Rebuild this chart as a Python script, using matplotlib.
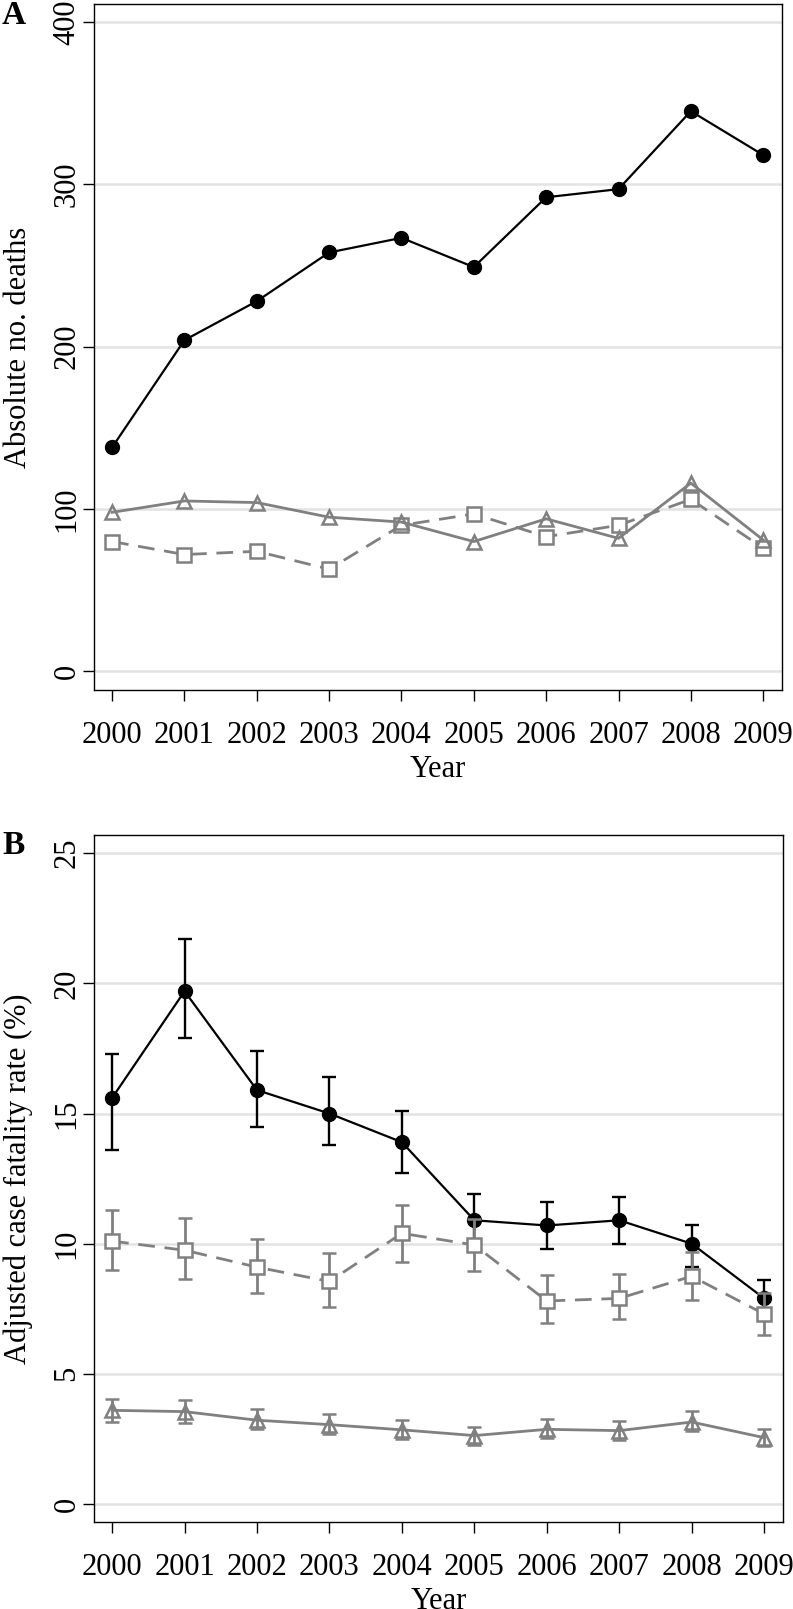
import numpy as np
import matplotlib
matplotlib.use('Agg')
import matplotlib.pyplot as plt

plt.rcParams['font.family'] = ['Liberation Serif', 'DejaVu Serif']

# Data
years = [2000, 2001, 2002, 2003, 2004, 2005, 2006, 2007, 2008, 2009]

# Panel A - absolute number of deaths
deaths_circle = [138, 204, 228, 258, 267, 249, 292, 297, 345, 318]
deaths_triangle = [98, 105, 104, 95, 92, 80, 94, 82, 116, 81]
deaths_square = [80, 72, 74, 63, 90, 97, 83, 90, 106, 76]

# Panel B - adjusted case fatality rate (%) with lower / upper bounds
cfr_circle = [15.6, 19.7, 15.9, 15.0, 13.9, 10.9, 10.7, 10.9, 10.0, 7.9]
cfr_circle_lo = [13.6, 17.9, 14.5, 13.8, 12.7, 10.0, 9.8, 10.0, 9.1, 7.3]
cfr_circle_hi = [17.3, 21.7, 17.4, 16.4, 15.1, 11.9, 11.6, 11.8, 10.7, 8.6]

cfr_square = [10.1, 9.75, 9.1, 8.55, 10.4, 9.95, 7.8, 7.9, 8.75, 7.3]
cfr_square_lo = [9.0, 8.65, 8.1, 7.55, 9.3, 8.95, 6.95, 7.1, 7.85, 6.5]
cfr_square_hi = [11.3, 11.0, 10.2, 9.65, 11.5, 10.95, 8.8, 8.85, 9.7, 8.1]

cfr_triangle = [3.6, 3.55, 3.22, 3.05, 2.85, 2.63, 2.87, 2.82, 3.15, 2.55]
cfr_triangle_lo = [3.15, 3.13, 2.87, 2.7, 2.5, 2.28, 2.54, 2.46, 2.8, 2.24]
cfr_triangle_hi = [4.05, 4.0, 3.64, 3.45, 3.22, 2.97, 3.26, 3.2, 3.57, 2.87]

gray = '#808080'
dash = (0, (6, 3.5))

fig = plt.figure(figsize=(7.93, 16.09), dpi=100)
axA = fig.add_axes([94/793, 1-690/1609, 688/793, 686/1609])
axB = fig.add_axes([94/793, 1-1522/1609, 689/793, 687/1609])


def style_axes(ax, yticks, ylim, ylabel):
    ax.set_xlim(1999.75, 2009.26)
    ax.set_ylim(*ylim)
    ax.set_xticks(years)
    ax.set_xticklabels([str(y) for y in years])
    ax.set_yticks(yticks)
    ax.set_yticklabels([str(t) for t in yticks], rotation=90, va='center')
    for t in yticks:
        ax.axhline(t, color='#e3e3e3', lw=1.8, zorder=0)
    ax.tick_params(axis='both', direction='out', length=8, width=1.0,
                   labelsize=22, color='black')
    ax.tick_params(axis='x', pad=14)
    ax.tick_params(axis='y', pad=1)
    for s in ax.spines.values():
        s.set_linewidth(1.0)
    ax.set_xlabel('Year', fontsize=22, labelpad=4)
    ax.set_ylabel(ylabel, fontsize=22, labelpad=14)


# Panel A
axA.plot(years, deaths_circle, color='black', lw=1.6, marker='o',
         markersize=10, zorder=3)
axA.plot(years, deaths_square, color=gray, lw=2.0, ls=dash, marker='s',
         markersize=9.5, markerfacecolor='white', markeredgecolor=gray,
         markeredgewidth=1.8, zorder=4)
axA.plot(years, deaths_triangle, color=gray, lw=2.0, marker='^',
         markersize=10.5, markerfacecolor='none', markeredgecolor=gray,
         markeredgewidth=1.8, zorder=5)
style_axes(axA, [0, 100, 200, 300, 400], (-11.4, 411), 'Absolute no. deaths')

# Panel B
c = np.array(cfr_circle)
s = np.array(cfr_square)
t = np.array(cfr_triangle)
axB.errorbar(years, c, yerr=[c - np.array(cfr_circle_lo), np.array(cfr_circle_hi) - c],
             color='black', lw=1.6, marker='o', markersize=10, elinewidth=1.7,
             capsize=4.7, capthick=1.7, zorder=3)
axB.errorbar(years, s, yerr=[s - np.array(cfr_square_lo), np.array(cfr_square_hi) - s],
             color=gray, lw=2.0, ls=dash, marker='s', markersize=9.5,
             markerfacecolor='white', markeredgecolor=gray, markeredgewidth=1.8,
             elinewidth=2.0, capsize=4.7, capthick=2.0, zorder=4)
axB.errorbar(years, t, yerr=[t - np.array(cfr_triangle_lo), np.array(cfr_triangle_hi) - t],
             color=gray, lw=2.0, marker='^', markersize=10.5,
             markerfacecolor='none', markeredgecolor=gray, markeredgewidth=1.8,
             elinewidth=2.0, capsize=4.7, capthick=2.0, zorder=5)
style_axes(axB, [0, 5, 10, 15, 20, 25], (-0.69, 25.7), 'Adjusted case fatality rate (%)')

fig.text(2/793, 1-16/1609, 'A', fontsize=24, fontweight='bold', ha='left', va='center')
fig.text(2/793, 1-846/1609, 'B', fontsize=24, fontweight='bold', ha='left', va='center')

fig.savefig('out.png', dpi=100)
